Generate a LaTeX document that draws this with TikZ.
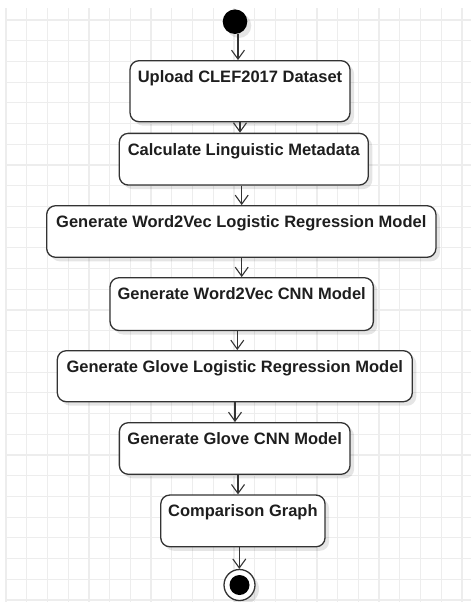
\documentclass[tikz,border=0pt]{standalone}
\usepackage{fontspec}
\setmainfont{Liberation Sans}
\usetikzlibrary{arrows.meta,shadows,calc}
\definecolor{gridc}{HTML}{EDEDED}
\definecolor{edgec}{HTML}{333333}
\definecolor{textc}{HTML}{1E1E1E}
\tikzset{
  gridline/.style={draw=gridc, line width=1.2pt},
  actbox/.style={draw=edgec, fill=white, line width=1.3pt, rounded corners=9pt,
    inner sep=0pt, drop shadow={shadow xshift=4pt, shadow yshift=-4pt, fill=black, opacity=0.10}},
  lbl/.style={anchor=base, inner sep=0pt, text=textc,
    font=\fontsize{16.5}{19}\selectfont\bfseries},
  flow/.style={draw=edgec, line width=1.1pt, -{Straight Barb[length=9pt,width=13pt,line width=1.1pt]}},
}
\begin{document}
\begin{tikzpicture}[x=1pt,y=-1pt]
\useasboundingbox (0,0) rectangle (471,602);
% grid
\foreach \i in {0,...,22} \draw[gridline] ({6+20.727*\i},8) -- ({6+20.727*\i},602);
\foreach \j in {0,...,28} \draw[gridline] (6,{20+20.714*\j}) -- (471,{20+20.714*\j});
% start
\node[circle, fill=black, minimum size=24.6pt, inner sep=0pt,
  drop shadow={shadow xshift=4pt, shadow yshift=-4pt, fill=black, opacity=0.10}] (s) at (235,21.7) {};
% boxes
\node[actbox, minimum width=220pt, minimum height=61pt] (b1) at (240,91.2) {};
\node[actbox, minimum width=249pt, minimum height=51.7pt] (b2) at (243.8,159.2) {};
\node[actbox, minimum width=389.3pt, minimum height=51.6pt] (b3) at (241.3,231.5) {};
\node[actbox, minimum width=263.3pt, minimum height=52.8pt] (b4) at (241.7,304.1) {};
\node[actbox, minimum width=355pt, minimum height=51pt] (b5) at (234.8,376.2) {};
\node[actbox, minimum width=230.7pt, minimum height=51.6pt] (b6) at (234.7,448.5) {};
\node[actbox, minimum width=164.3pt, minimum height=51.7pt] (b7) at (242.9,520.9) {};
% labels
\node[lbl] (t1) at ([yshift=-22.4pt]b1.north) {Upload CLEF2017 Dataset};
\node[lbl] (t2) at ([yshift=-22.4pt]b2.north) {Calculate Linguistic Metadata};
\node[lbl] (t3) at ([yshift=-22.4pt]b3.north) {Generate Word2Vec Logistic Regression Model};
\node[lbl] (t4) at ([yshift=-22.4pt]b4.north) {Generate Word2Vec CNN Model};
\node[lbl] (t5) at ([yshift=-22.4pt]b5.north) {Generate Glove Logistic Regression Model};
\node[lbl] (t6) at ([yshift=-22.4pt]b6.north) {Generate Glove CNN Model};
\node[lbl] (t7) at ([yshift=-22.4pt]b7.north) {Comparison Graph};
% end
\node[circle, draw=edgec, fill=white, line width=1.3pt, minimum size=31pt, inner sep=0pt,
  drop shadow={shadow xshift=4pt, shadow yshift=-4pt, fill=black, opacity=0.10}] (e) at (239.5,585) {};
\node[circle, fill=black, minimum size=20pt, inner sep=0pt] (ei) at (e.center) {};
% connectors
\draw[flow] ([xshift=3pt]s.south) -- ([xshift=3pt]s.south |- b1.north);
\draw[flow] (b1.south) -- (b1.south |- b2.north);
\draw[flow] ([xshift=-2.1pt]b2.south) -- ([xshift=-2.1pt]b2.south |- b3.north);
\draw[flow] ([xshift=0.4pt]b3.south) -- ([xshift=0.4pt]b3.south |- b4.north);
\draw[flow] ([xshift=-4.4pt]b4.south) -- ([xshift=-4.4pt]b4.south |- b5.north);
\draw[flow] ([xshift=0.2pt]b5.south) -- ([xshift=0.2pt]b5.south |- b6.north);
\draw[flow] ([xshift=3.3pt]b6.south) -- ([xshift=3.3pt]b6.south |- b7.north);
\draw[flow] ([xshift=-3.6pt]b7.south) -- ([xshift=-3.6pt]b7.south |- e.north);
\end{tikzpicture}
\end{document}
